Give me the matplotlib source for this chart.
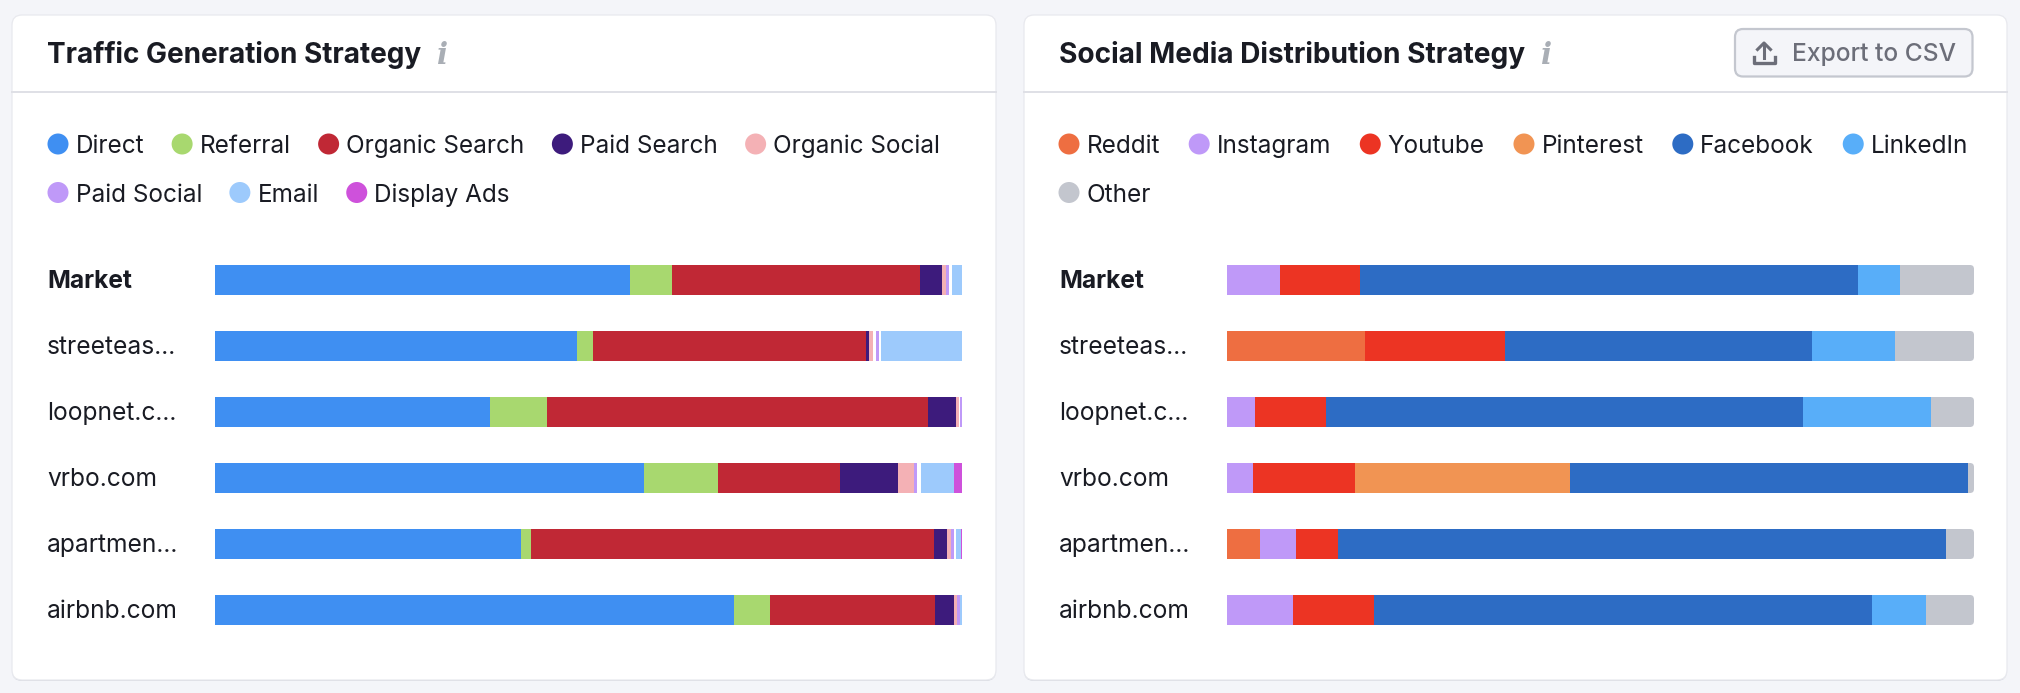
import matplotlib
matplotlib.use("Agg")
import matplotlib.pyplot as plt
from matplotlib.patches import FancyBboxPatch, Circle
from matplotlib.lines import Line2D
from matplotlib.transforms import IdentityTransform, ScaledTranslation

plt.rcParams['font.family'] = ['Inter', 'DejaVu Sans']

W, H, DPI = 2020, 693, 100
rows = ["Market", "streeteas...", "loopnet.c...", "vrbo.com", "apartmen...", "airbnb.com"]

# Traffic shares (%) per row; *_gap_* are the blank slivers visible in the bars
direct          = [55.60, 48.40, 36.75, 57.40, 40.95, 69.44]
referral        = [5.53, 2.20, 7.72, 9.99, 1.33, 4.86]
organic_search  = [33.29, 36.50, 50.93, 16.31, 53.93, 22.04]
paid_search     = [2.85, 0.44, 3.86, 7.72, 1.80, 2.53]
organic_social  = [0.54, 0.49, 0.40, 2.20, 0.54, 0.50]
traffic_gap_a   = [0.00, 0.40, 0.13, 0.00, 0.00, 0.00]
paid_social     = [0.48, 0.48, 0.21, 0.40, 0.44, 0.35]
traffic_gap_b   = [0.36, 0.27, 0.00, 0.47, 0.27, 0.00]
email           = [1.34, 10.82, 0.00, 4.46, 0.67, 0.28]
display_ads     = [0.00, 0.00, 0.00, 1.07, 0.13, 0.00]

traffic_names  = ["Direct", "Referral", "Organic Search", "Paid Search", "Organic Social",
                  "Paid Social", "Email", "Display Ads"]
traffic_colors = ["#3F8FF2", "#A8D86F", "#C02835", "#3D1B7C", "#F4B1B5",
                  "#BF99F8", "#9DCAFC", "#CE51DB"]
traffic_series = [direct, referral, organic_search, paid_search, organic_social,
                  traffic_gap_a, paid_social, traffic_gap_b, email, display_ads]
traffic_fill   = [traffic_colors[0], traffic_colors[1], traffic_colors[2], traffic_colors[3],
                  traffic_colors[4], "white", traffic_colors[5], "white",
                  traffic_colors[6], traffic_colors[7]]

# Social shares (%) per row
reddit    = [0.00, 18.52, 0.00, 0.00, 4.40, 0.00]
instagram = [7.06, 0.00, 3.73, 3.46, 4.86, 8.86]
youtube   = [10.73, 18.65, 9.53, 13.72, 5.66, 10.79]
pinterest = [0.00, 0.00, 0.00, 28.78, 0.00, 0.00]
facebook  = [66.69, 41.17, 63.89, 53.30, 81.35, 66.69]
linkedin  = [5.60, 11.13, 17.12, 0.00, 0.00, 7.26]
other     = [9.93, 10.53, 5.73, 0.73, 3.73, 6.40]

social_names  = ["Reddit", "Instagram", "Youtube", "Pinterest", "Facebook", "LinkedIn", "Other"]
social_colors = ["#EE6E41", "#BF99F8", "#EC3423", "#F19453", "#2D6CC4", "#58AEF9", "#C3C6CE"]
social_series = [reddit, instagram, youtube, pinterest, facebook, linkedin, other]

INK = "#191B23"
px = lambda v: v * 72 / DPI

fig = plt.figure(figsize=(W / DPI, H / DPI), dpi=DPI, facecolor="#F4F5F9")
bg = fig.add_axes([0, 0, 1, 1], zorder=0)
bg.set_xlim(0, W); bg.set_ylim(H, 0); bg.axis("off")
renderer = fig.canvas.get_renderer()


def draw_card(x0, x1, title, title_fs):
    # soft drop shadow under the card, then the card itself
    bg.add_patch(FancyBboxPatch((x0, 16), x1 - x0, 665, boxstyle="round,pad=0,rounding_size=10",
                                fc="#D3D5DD", ec="none"))
    bg.add_patch(FancyBboxPatch((x0, 15), x1 - x0, 665, boxstyle="round,pad=0,rounding_size=10",
                                fc="white", ec="#E8E9EE", lw=0.9))
    bg.add_line(Line2D([x0, x1], [92, 92], color="#DFE0E6", lw=1.4))
    t = bg.text(x0 + 35, 52, title, fontsize=title_fs, fontweight="bold", color=INK,
                va="center_baseline", ha="left")
    end = t.get_window_extent(renderer).x1
    bg.text(end + 21, 52, "i", fontsize=21, family="DejaVu Serif", style="italic",
            fontweight="bold", color="#A9AEB5", va="center_baseline", ha="center")


def draw_legend(x0, x1, names, colors, gap):
    x, y = x0 + 46, 144
    for n, c in zip(names, colors):
        t = bg.text(x + 17.5, y, n, fontsize=17.5, color=INK, va="center_baseline", ha="left")
        w = t.get_window_extent(renderer).width
        if x + 17.5 + w > x1 - 20:
            x, y = x0 + 46, y + 48.5
            t.set_position((x + 17.5, y))
        bg.add_patch(Circle((x, y), 10.5, fc=c, ec="none"))
        x += 17.5 + w + gap


def draw_bars(x0, x1, series, fills, rounded):
    ax = fig.add_axes([x0 / W, 1 - (247 + 66 * 6) / H, (x1 - x0) / W, 66 * 6 / H], zorder=2)
    ax.patch.set_alpha(0)
    ypos = list(range(len(rows)))
    left = [0.0] * len(rows)
    containers = []
    for s, c in zip(series, fills):
        containers.append(ax.barh(ypos, s, left=left, height=30 / 66, color=c, linewidth=0))
        left = [a + b for a, b in zip(left, s)]
    ax.set_xlim(0, 100)
    ax.set_ylim(len(rows) - 0.5, -0.5)
    ax.set_yticks(ypos)
    ax.set_yticklabels(rows, ha="left")
    ax.tick_params(axis="y", length=0, pad=px(168), labelsize=17.7, labelcolor=INK)
    ax.get_yticklabels()[0].set_fontweight("bold")
    nudge = ScaledTranslation(0, 1.3 / DPI, fig.dpi_scale_trans)
    for lab in ax.get_yticklabels():
        lab.set_transform(lab.get_transform() + nudge)
    ax.set_xticks([])
    for sp in ax.spines.values():
        sp.set_visible(False)
    if rounded:
        for i in ypos:
            p0 = ax.transData.transform((0, i + 15 / 66))
            p1 = ax.transData.transform((100, i - 15 / 66))
            clip = FancyBboxPatch((p0[0] - 6, p0[1]), p1[0] - p0[0] + 6, p1[1] - p0[1],
                                  boxstyle="round,pad=0,rounding_size=4",
                                  transform=IdentityTransform())
            for cont in containers:
                cont[i].set_clip_path(clip)
    return ax


draw_card(12, 996, "Traffic Generation Strategy", 20.1)
draw_card(1024, 2007, "Social Media Distribution Strategy", 20.2)
draw_legend(12, 996, traffic_names, traffic_colors, 38)
draw_legend(1023, 2007, social_names, social_colors, 39.2)
draw_bars(215, 962, traffic_series, traffic_fill, False)
draw_bars(1227, 1974, social_series, social_colors, True)

# Export button
bg.add_patch(FancyBboxPatch((1735, 29), 237.5, 47.5, boxstyle="round,pad=0,rounding_size=8",
                            fc="#F4F5F9", ec="#C4C7CF", lw=1.6))
bg.text(1792, 52, "Export to CSV", fontsize=17.7, fontweight="medium", color="#6C6E79",
        va="center_baseline", ha="left")
icon = "#6C6E79"
bg.add_line(Line2D([1764, 1764], [44, 58], color=icon, lw=2.2))
bg.add_line(Line2D([1757.5, 1764, 1770.5], [49.5, 43, 49.5], color=icon, lw=2.2))
bg.add_line(Line2D([1753.5, 1753.5, 1774.5, 1774.5], [57, 63, 63, 57], color=icon, lw=2.4))

fig.savefig("out.png", dpi=DPI, facecolor=fig.get_facecolor())
